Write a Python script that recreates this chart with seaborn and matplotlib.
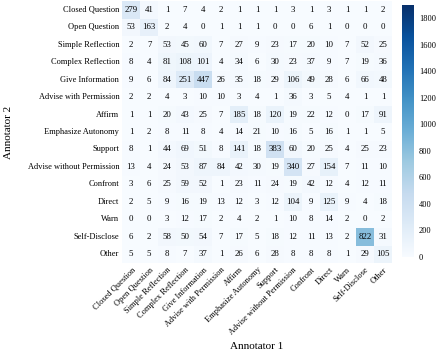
import numpy as np
import pandas as pd
import matplotlib
matplotlib.use("Agg")
import matplotlib.pyplot as plt
import seaborn as sns

labels = ["Closed Question", "Open Question", "Simple Reflection", "Complex Reflection",
          "Give Information", "Advise with Permission", "Affirm", "Emphasize Autonomy",
          "Support", "Advise without Permission", "Confront", "Direct", "Warn",
          "Self-Disclose", "Other"]

# rows = Annotator 2, columns = Annotator 1
closed_question = [279, 41, 1, 7, 4, 2, 1, 1, 1, 3, 1, 3, 1, 1, 2]
open_question = [53, 163, 2, 4, 0, 1, 1, 1, 0, 0, 6, 1, 0, 0, 0]
simple_reflection = [2, 7, 53, 45, 60, 7, 27, 9, 23, 17, 20, 10, 7, 52, 25]
complex_reflection = [8, 4, 81, 108, 101, 4, 34, 6, 30, 23, 37, 9, 7, 19, 36]
give_information = [9, 6, 84, 251, 447, 26, 35, 18, 29, 106, 49, 28, 6, 66, 48]
advise_with_permission = [2, 2, 4, 3, 10, 10, 3, 4, 1, 36, 3, 5, 4, 1, 1]
affirm = [1, 1, 20, 43, 25, 7, 185, 18, 120, 19, 22, 12, 0, 17, 91]
emphasize_autonomy = [1, 2, 8, 11, 8, 4, 14, 21, 10, 16, 5, 16, 1, 1, 5]
support = [8, 1, 44, 69, 51, 8, 141, 18, 383, 60, 20, 25, 4, 25, 23]
advise_without_permission = [13, 4, 24, 53, 87, 84, 42, 30, 19, 340, 27, 154, 7, 11, 10]
confront = [3, 6, 25, 59, 52, 1, 23, 11, 24, 19, 42, 12, 4, 12, 11]
direct = [2, 5, 9, 16, 19, 13, 12, 3, 12, 104, 9, 125, 9, 4, 18]
warn = [0, 0, 3, 12, 17, 2, 4, 2, 1, 10, 8, 14, 2, 0, 2]
self_disclose = [6, 2, 58, 50, 54, 7, 17, 5, 18, 12, 11, 13, 2, 822, 31]
other = [5, 5, 8, 7, 37, 1, 26, 6, 28, 8, 8, 8, 1, 29, 105]

rows = [closed_question, open_question, simple_reflection, complex_reflection,
        give_information, advise_with_permission, affirm, emphasize_autonomy,
        support, advise_without_permission, confront, direct, warn,
        self_disclose, other]

df = pd.DataFrame(rows, index=labels, columns=labels)

plt.rcParams['font.family'] = ['Liberation Serif', 'DejaVu Serif']

fig = plt.figure(figsize=(4.36, 3.53), dpi=100)
ax = fig.add_axes([0.280, 0.255, 0.619, 0.742])
cax = fig.add_axes([0.922, 0.272, 0.028, 0.714])

sns.heatmap(df, ax=ax, cbar_ax=cax, cmap="Blues", vmin=0, vmax=1900,
            annot=True, fmt="d", annot_kws={"fontsize": 6.3, "color": "black"})

ax.set_xticklabels(labels, rotation=45, ha="right", rotation_mode="anchor", fontsize=6)
ax.set_yticklabels(labels, rotation=0, fontsize=6)
ax.tick_params(length=0, pad=2)
ax.set_xlabel("Annotator 1", fontsize=8)
ax.set_ylabel("Annotator 2", fontsize=8)
# push the y label out to the left edge like the reference
ax.yaxis.set_label_coords(-0.405, 0.5)

cax.set_yticks(range(0, 1801, 200))
cax.tick_params(labelsize=6, length=0)
for s in cax.spines.values():
    s.set_visible(False)

fig.savefig("out.png", dpi=100)
